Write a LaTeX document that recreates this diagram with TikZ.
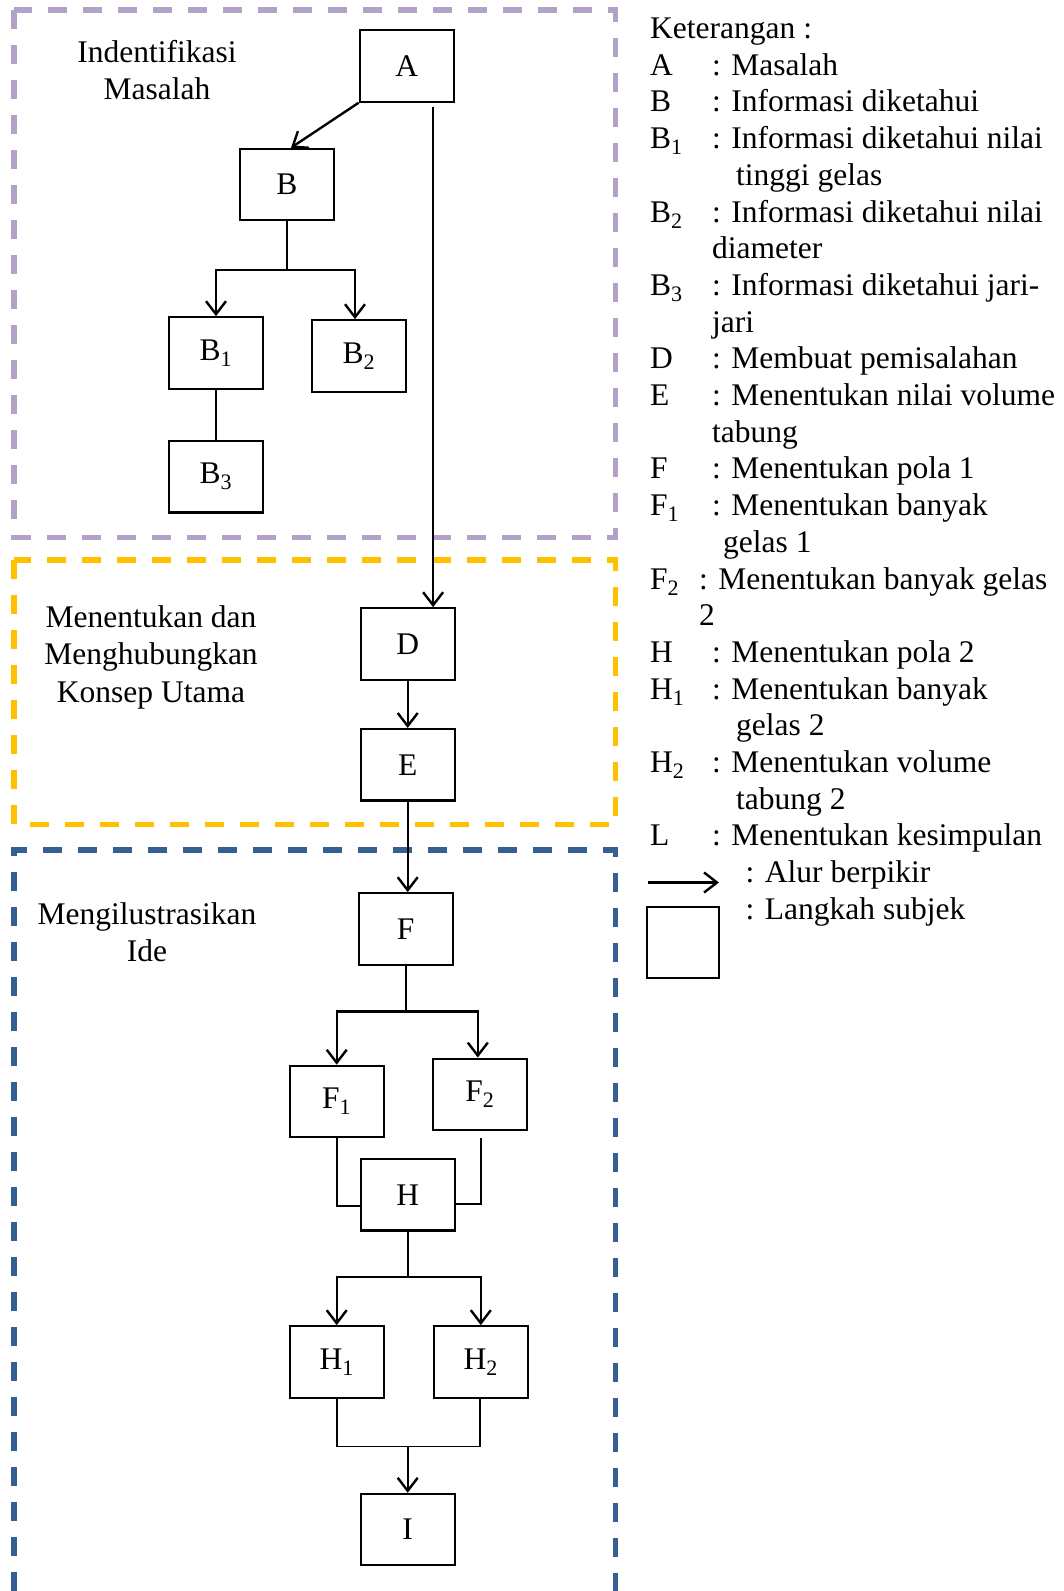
\documentclass[tikz,border=0pt]{standalone}
\usepackage{fontspec}
\setmainfont{Liberation Serif}
\usepackage{xcolor}
\usetikzlibrary{arrows.meta,positioning,calc}
\definecolor{framepurple}{RGB}{178,162,199}
\definecolor{framegold}{RGB}{255,192,0}
\definecolor{frameblue}{RGB}{55,96,146}

\begin{document}
\begin{tikzpicture}[
    x=1pt, y=-1pt,
    font=\fontsize{31.5}{37.5}\selectfont,
    stepbox/.style={draw, line width=2.2pt, minimum width=94pt, minimum height=71.5pt, inner sep=0pt},
    phase/.style={align=center},
    legendtext/.style={anchor=base west, inner sep=0pt},
    frame/.style={line width=5.5pt, dash pattern=on 19pt off 16pt, color=#1},
    flow/.style={-{Straight Barb[length=13pt,width=20pt,line width=2.4pt]}, line width=2.4pt},
    link/.style={line width=1.7pt},
]
\useasboundingbox (0,0) rectangle (1064,1591);

% === Dashed phase frames ===
\draw[frame=framepurple] (14.2,10.1) rectangle (615.7,537.6);
\draw[frame=framegold] (14.2,560) rectangle (615.7,824.6);
\draw[frame=frameblue] (14.2,1591) |- (615.7,850) -- (615.7,1591);

% === Phase labels ===
\node[phase] (phase1) at (157,70) {Indentifikasi\\Masalah};
\node[phase] (phase2) at (151,657) {Menentukan dan\\Menghubungkan\\Konsep Utama};
\node[phase] (phase3) at (147,932) {Mengilustrasikan\\Ide};

% === Identifying the problem ===
\node[stepbox] (A) at (406.7,65.9) {A};
\node[stepbox] (B) at (287,184.6) {B};
\node[stepbox] (B1) at (216,353) {B\textsubscript{1}};
\node[stepbox] (B2) at (359,356) {B\textsubscript{2}};
\node[stepbox] (B3) at (216,476.7) {B\textsubscript{3}};

\draw[flow] (A.south west) -- ([xshift=4pt]B.north);
\coordinate (bsplit) at (287,269.8);
\draw[link] (B.south) -- (bsplit);
\draw[flow] (bsplit) -| (B1.north);
\draw[flow] (bsplit) -| ([xshift=-4pt]B2.north);
\draw[link] (B1.south) -- (B3.north);

% === Main concept ===
\node[stepbox] (D) at (407.7,644) {D};
\node[stepbox] (E) at (407.7,764.8) {E};

\draw[flow] ([xshift=26.4pt,yshift=-4pt]A.south) -- ([xshift=25.4pt]D.north);
\draw[flow] (D) -- (E);

% === Illustrating the idea ===
\node[stepbox] (F) at (405.7,929) {F};
\node[stepbox] (F1) at (336.7,1101.5) {F\textsubscript{1}};
\node[stepbox] (F2) at (479.8,1094.4) {F\textsubscript{2}};
\node[stepbox] (H) at (407.7,1194.8) {H};
\node[stepbox] (H1) at (336.7,1362) {H\textsubscript{1}};
\node[stepbox] (H2) at (480.8,1362) {H\textsubscript{2}};
\node[stepbox] (I) at (407.7,1529.6) {I};

\draw[flow] (E.south) -- (E.south |- F.north);
\coordinate (fsplit) at (405.7,1011.3);
\draw[link] (F.south) -- (fsplit);
\draw[flow] (fsplit) -| (F1.north);
\draw[flow] (fsplit) -| ([xshift=-2pt]F2.north);
\draw[link] (F1.south) |- ([yshift=-11pt]H.west);
\draw[link] ([xshift=1pt,yshift=-7pt]F2.south) |- ([yshift=-9pt]H.east);

\coordinate (hsplit) at (407.7,1277);
\draw[link] (H.south) -- (hsplit);
\draw[flow] (hsplit) -| (H1.north);
\draw[flow] (hsplit) -| (H2.north);

\coordinate (hjoin) at (407.7,1446.4);
\draw[link] (H1.south) |- (hjoin) -| ([xshift=-1pt]H2.south);
\draw[flow] (hjoin) -- (I);

% === Legend ===
\node[legendtext] (keterangan) at (650,38.5) {Keterangan :};
\foreach \row/\lab in {1/A, 2/B, 3/{B\textsubscript{1}}, 5/{B\textsubscript{2}}, 7/{B\textsubscript{3}},
    9/D, 10/E, 12/F, 13/{F\textsubscript{1}}, 15/{F\textsubscript{2}}, 17/H,
    18/{H\textsubscript{1}}, 20/{H\textsubscript{2}}, 22/L}
  \node[legendtext] (lab\row) at (650,38.5+36.7*\row) {\lab};
\foreach \row/\tx/\txt in {1/712/{: Masalah}, 2/712/{: Informasi diketahui},
    3/712/{: Informasi diketahui nilai}, 4/736/{tinggi gelas},
    5/712/{: Informasi diketahui nilai}, 6/712/{diameter},
    7/712/{: Informasi diketahui jari-}, 8/712/{jari},
    9/712/{: Membuat pemisalahan}, 10/712/{: Menentukan nilai volume}, 11/712/{tabung},
    12/712/{: Menentukan pola 1}, 13/712/{: Menentukan banyak}, 14/723/{gelas 1},
    15/699/{: Menentukan banyak gelas}, 16/699/{2},
    17/712/{: Menentukan pola 2}, 18/712/{: Menentukan banyak}, 19/736/{gelas 2},
    20/712/{: Menentukan volume}, 21/736/{tabung 2},
    22/712/{: Menentukan kesimpulan}, 23/745.5/{: Alur berpikir}, 24/745.5/{: Langkah subjek}}
  \node[legendtext] (txt\row) at (\tx,38.5+36.7*\row) {\txt};

\coordinate (arrowfrom) at (648,882.5);
\coordinate (arrowto) at (719,882.5);
\draw[flow] (arrowfrom) -- (arrowto);
\node[stepbox, minimum width=72pt, minimum height=71pt] (legbox) at (683,942.5) {};

\end{tikzpicture}
\end{document}
